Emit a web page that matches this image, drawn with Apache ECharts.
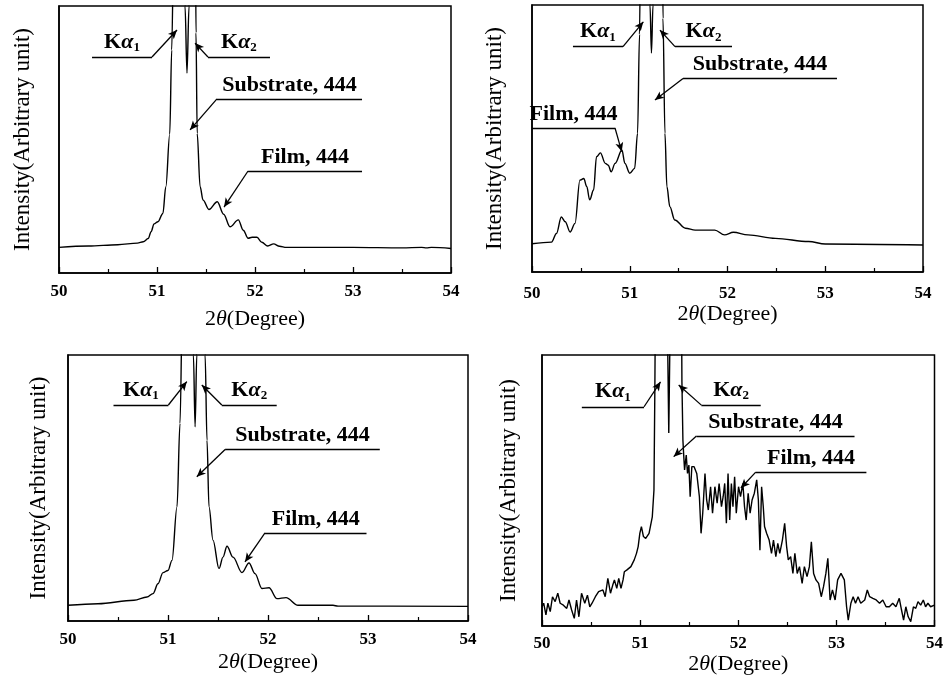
<!DOCTYPE html>
<html>
<head>
<meta charset="utf-8">
<script src="https://cdn.jsdelivr.net/npm/echarts@6/dist/echarts.min.js"></script>
<style>
  html, body { margin: 0; padding: 0; background: #fff; }
  #main { width: 946px; height: 679px; }
</style>
</head>
<body>
<div id="main"></div>
<script>
// 2theta scans, intensity on an arbitrary 0-100 scale (peaks run off the top)
var scanA = [[50.0,9.6],[50.3,10.1],[50.6,10.6],[50.8,11.2],[50.86,11.7],[50.91,12.9],[50.94,15.5],[50.97,18.4],[51.01,19.2],[51.06,22.3],[51.09,32.3],[51.13,52],[51.15,83.5],[51.173,130],[51.28,130],[51.286,100],[51.306,74.9],[51.327,100],[51.333,130],[51.392,130],[51.398,90],[51.41,52.3],[51.44,32.3],[51.47,27.3],[51.53,23.8],[51.615,26.7],[51.68,22],[51.745,17.3],[51.83,19.9],[51.88,16],[51.93,13],[51.97,13.4],[52.02,13.4],[52.07,11.5],[52.13,10.1],[52.19,10.9],[52.25,10],[52.32,9.6],[53.0,9.6],[53.5,9.4],[53.7,9.6],[53.75,9.4],[53.8,9.6],[54.0,9.2]];

var scanB = [[50.0,10.6],[50.2,11.2],[50.25,14.4],[50.30,20.6],[50.34,18.8],[50.39,15.0],[50.44,18.2],[50.49,34.4],[50.53,35],[50.56,32],[50.59,27],[50.63,30.7],[50.66,43.2],[50.70,44.6],[50.75,40.7],[50.78,40],[50.81,37.5],[50.85,40.7],[50.92,45.7],[50.95,40.7],[51.0,37],[51.05,38.8],[51.08,52],[51.10,89],[51.112,130],[51.20,130],[51.207,100],[51.222,82],[51.238,100],[51.245,130],[51.335,130],[51.34,95],[51.36,52],[51.38,32],[51.41,24.5],[51.46,19.5],[51.57,16.4],[51.67,15.7],[51.87,15.7],[51.97,13.9],[52.06,14.9],[52.21,13.9],[52.49,12.6],[52.83,11.4],[53.0,10.5],[54.0,10.1]];

var scanC = [[50.0,5.9],[50.3,6.5],[50.66,7.8],[50.79,9],[50.85,10.3],[50.9,14],[50.95,18.2],[51.0,19],[51.04,22.8],[51.09,42.9],[51.12,74.3],[51.148,130],[51.248,130],[51.254,100],[51.271,73],[51.288,100],[51.294,130],[51.365,130],[51.371,100],[51.39,68],[51.41,42.9],[51.45,30.4],[51.51,19.7],[51.55,24],[51.59,28.1],[51.65,24],[51.74,18.2],[51.81,21.8],[51.87,17.8],[51.94,12.2],[52.01,12.5],[52.09,8.4],[52.18,8.8],[52.30,5.9],[52.65,5.9],[52.7,5.6],[54.0,5.5]];

var scanD = [[50.000,7.1],[50.017,8.4],[50.040,4.1],[50.060,8.4],[50.084,5.3],[50.107,10.8],[50.134,9.0],[50.161,12.1],[50.185,8.4],[50.218,7.7],[50.252,6.5],[50.275,9.6],[50.302,5.9],[50.329,2.8],[50.352,9.6],[50.376,3.4],[50.403,12.1],[50.436,8.4],[50.463,11.4],[50.487,7.1],[50.510,8.4],[50.544,10.8],[50.577,12.7],[50.621,13.3],[50.644,10.8],[50.671,17.6],[50.698,12.1],[50.721,15.1],[50.738,17.0],[50.762,13.9],[50.782,17.6],[50.805,13.9],[50.826,17.0],[50.839,20.0],[50.866,20.7],[50.906,21.9],[50.940,24.4],[50.963,26.8],[50.980,29.3],[50.997,34.2],[51.013,36.7],[51.034,33.0],[51.057,32.3],[51.091,34.2],[51.124,40.3],[51.141,50.2],[51.150,87.1],[51.158,130],[51.275,130],[51.282,100],[51.292,71.2],[51.302,100],[51.31,130],[51.420,130],[51.426,90],[51.436,68.6],[51.443,63.7],[51.453,57.6],[51.470,63.1],[51.483,56.3],[51.497,59.4],[51.510,47.7],[51.527,58.8],[51.550,58.8],[51.577,56.3],[51.604,47.7],[51.621,34.2],[51.638,41.6],[51.661,56.3],[51.678,46.5],[51.695,42.8],[51.718,51.4],[51.738,41.6],[51.762,51.4],[51.785,45.3],[51.805,52.6],[51.829,44.0],[51.846,47.7],[51.862,52.6],[51.879,37.9],[51.896,56.3],[51.913,39.1],[51.930,52.6],[51.946,44.0],[51.963,55.1],[51.980,41.6],[52.003,51.4],[52.023,47.7],[52.047,52.6],[52.064,44.0],[52.081,39.1],[52.101,49.0],[52.121,41.6],[52.141,46.5],[52.164,49.0],[52.188,53.9],[52.205,46.5],[52.221,28.0],[52.238,51.4],[52.255,44.0],[52.268,36.7],[52.289,34.2],[52.315,31.7],[52.339,26.8],[52.359,31.7],[52.383,25.6],[52.403,30.5],[52.423,26.8],[52.450,31.7],[52.473,37.9],[52.493,29.3],[52.510,24.4],[52.534,25.6],[52.557,19.4],[52.577,26.8],[52.601,19.4],[52.624,21.9],[52.651,15.7],[52.674,21.9],[52.701,18.2],[52.725,21.9],[52.745,31.1],[52.768,19.4],[52.792,17.0],[52.819,15.7],[52.846,10.8],[52.869,14.5],[52.893,19.4],[52.913,25.0],[52.936,9.6],[52.960,13.3],[52.987,9.6],[53.013,17.0],[53.047,19.4],[53.081,17.0],[53.104,7.1],[53.121,2.2],[53.148,8.4],[53.171,10.8],[53.195,8.4],[53.221,10.8],[53.248,8.4],[53.289,9.6],[53.315,13.3],[53.339,10.8],[53.372,10.2],[53.406,9.6],[53.440,8.4],[53.473,9.6],[53.507,7.1],[53.540,7.1],[53.574,8.4],[53.607,7.1],[53.641,10.2],[53.664,5.9],[53.685,2.2],[53.708,7.1],[53.732,3.4],[53.758,1.6],[53.785,7.1],[53.809,6.5],[53.832,9.0],[53.859,7.7],[53.886,9.6],[53.909,7.1],[53.933,8.4],[53.960,7.1],[54.000,7.7]];

var xTicks = [50, 51, 52, 53, 54];

// annotations: label, underline from x0 to x1 at y, leader joins at one end and points to tip
var notesA = [
  {text: '{k|K}{a|α}{s|1}', x0: 50.337, x1: 50.949, y: 80.9, join: 'right', tip: [51.204, 91.0]},
  {text: '{k|K}{a|α}{s|2}', x0: 51.520, x1: 52.153, y: 80.9, join: 'left', tip: [51.388, 86.1]},
  {text: 'Substrate, 444', x0: 51.612, x1: 53.092, y: 65.2, join: 'left', tip: [51.337, 53.6]},
  {text: 'Film, 444', x0: 51.929, x1: 53.092, y: 38.2, join: 'left', tip: [51.684, 24.7]}
];
var notesB = [
  {text: '{k|K}{a|α}{s|1}', x0: 50.419, x1: 50.931, y: 84.4, join: 'right', tip: [51.139, 93.7]},
  {text: '{k|K}{a|α}{s|2}', x0: 51.463, x1: 52.046, y: 84.4, join: 'left', tip: [51.309, 90.6]},
  {text: 'Substrate, 444', x0: 51.545, x1: 53.120, y: 72.5, join: 'left', tip: [51.258, 64.4]},
  {text: 'Film, 444', x0: 50.0, x1: 50.849, y: 54.0, join: 'right', tip: [50.918, 45.1]}
];
var notesC = [
  {text: '{k|K}{a|α}{s|1}', x0: 50.455, x1: 51.004, y: 81.2, join: 'right', tip: [51.188, 90.0]},
  {text: '{k|K}{a|α}{s|2}', x0: 51.538, x1: 52.087, y: 81.2, join: 'left', tip: [51.338, 88.7]},
  {text: 'Substrate, 444', x0: 51.571, x1: 53.118, y: 64.5, join: 'left', tip: [51.288, 54.2]},
  {text: 'Film, 444', x0: 51.970, x1: 52.985, y: 33.1, join: 'left', tip: [51.770, 22.2]}
];
var notesD = [
  {text: '{k|K}{a|α}{s|1}', x0: 50.406, x1: 51.040, y: 80.9, join: 'right', tip: [51.208, 90.1]},
  {text: '{k|K}{a|α}{s|2}', x0: 51.624, x1: 52.229, y: 81.5, join: 'left', tip: [51.393, 88.9]},
  {text: 'Substrate, 444', x0: 51.574, x1: 53.185, y: 70.1, join: 'left', tip: [51.342, 62.5]},
  {text: 'Film, 444', x0: 52.178, x1: 53.306, y: 56.8, join: 'left', tip: [52.027, 50.9]}
];

var serif = 'Liberation Serif, Times New Roman, serif';

var noteRich = {
  k: {fontFamily: serif, fontWeight: 'bold', fontSize: 22, lineHeight: 24, color: '#000'},
  a: {fontFamily: serif, fontWeight: 'bold', fontStyle: 'italic', fontSize: 22, lineHeight: 24, color: '#000'},
  s: {fontFamily: serif, fontWeight: 'bold', fontSize: 13, lineHeight: 13, verticalAlign: 'bottom', color: '#000'}
};

function buildMarks(notes) {
  var data = [];
  notes.forEach(function (n) {
    data.push([
      {coord: [n.x0, n.y], symbol: 'none',
       label: {show: true, position: 'insideMiddleTop', distance: 3, formatter: n.text,
               fontFamily: serif, fontWeight: 'bold', fontSize: 22, color: '#000', rich: noteRich}},
      {coord: [n.x1, n.y], symbol: 'none'}
    ]);
    var jx = n.join === 'left' ? n.x0 : n.x1;
    data.push([
      {coord: [jx, n.y], symbol: 'none', label: {show: false}},
      {coord: n.tip, symbol: 'arrow', symbolSize: [6, 9]}
    ]);
  });
  return {
    silent: true,
    symbol: ['none', 'none'],
    lineStyle: {color: '#000', width: 1.3, type: 'solid'},
    label: {show: false},
    emphasis: {disabled: true},
    data: data
  };
}

var panels = [
  {grid: {left: 59, top: 6, width: 392, height: 267}, scan: scanA, smooth: 0.35, notes: notesA, labelMargin: 10, xGap: 35, yGap: 25},
  {grid: {left: 532, top: 5, width: 391, height: 267}, scan: scanB, smooth: 0.35, notes: notesB, labelMargin: 13, xGap: 30, yGap: 26},
  {grid: {left: 68, top: 355, width: 400, height: 266}, scan: scanC, smooth: 0.35, notes: notesC, labelMargin: 10, xGap: 30, yGap: 18},
  {grid: {left: 542, top: 355, width: 397, height: 271}, scan: scanD, smooth: false, notes: notesD, labelMargin: 9, xGap: 24, yGap: 22}
];

var option = {
  animation: false,
  backgroundColor: '#fff',
  grid: [],
  xAxis: [],
  yAxis: [],
  series: []
};

panels.forEach(function (p, i) {
  option.grid.push(Object.assign({show: true, borderColor: '#000', borderWidth: 1.5, backgroundColor: 'transparent'}, p.grid));
  option.xAxis.push({
    gridIndex: i,
    type: 'value',
    min: xTicks[0],
    max: xTicks[xTicks.length - 1],
    interval: 1,
    name: '{n|2}{t|θ}{n|(Degree)}',
    nameLocation: 'middle',
    nameGap: p.xGap,
    nameTextStyle: {
      rich: {
        n: {fontFamily: serif, fontSize: 22, color: '#000'},
        t: {fontFamily: serif, fontSize: 22, fontStyle: 'italic', color: '#000'}
      }
    },
    axisLine: {lineStyle: {color: '#000', width: 1.5}},
    axisTick: {inside: true, length: 6, lineStyle: {color: '#000', width: 1.3}},
    minorTick: {show: true, splitNumber: 2, length: 4, lineStyle: {color: '#000', width: 1.2}},
    splitLine: {show: false},
    axisLabel: {margin: p.labelMargin, fontFamily: serif, fontWeight: 'bold', fontSize: 17, color: '#000'}
  });
  option.yAxis.push({
    gridIndex: i,
    type: 'value',
    min: 0,
    max: 100,
    name: 'Intensity(Arbitrary unit)',
    nameLocation: 'middle',
    nameGap: p.yGap,
    nameTextStyle: {fontFamily: serif, fontSize: 23, color: '#000'},
    axisLine: {show: true, lineStyle: {color: '#000', width: 1.5}},
    axisTick: {show: false},
    axisLabel: {show: false},
    splitLine: {show: false}
  });
  option.series.push({
    type: 'line',
    xAxisIndex: i,
    yAxisIndex: i,
    data: p.scan,
    smooth: p.smooth,
    smoothMonotone: 'x',
    showSymbol: false,
    clip: true,
    lineStyle: {color: '#000', width: 1.4},
    emphasis: {disabled: true},
    markLine: buildMarks(p.notes)
  });
});

var myChart = echarts.init(document.getElementById('main'));
myChart.setOption(option);
window.onresize = function () {
  myChart.resize();
};
</script>
</body>
</html>
